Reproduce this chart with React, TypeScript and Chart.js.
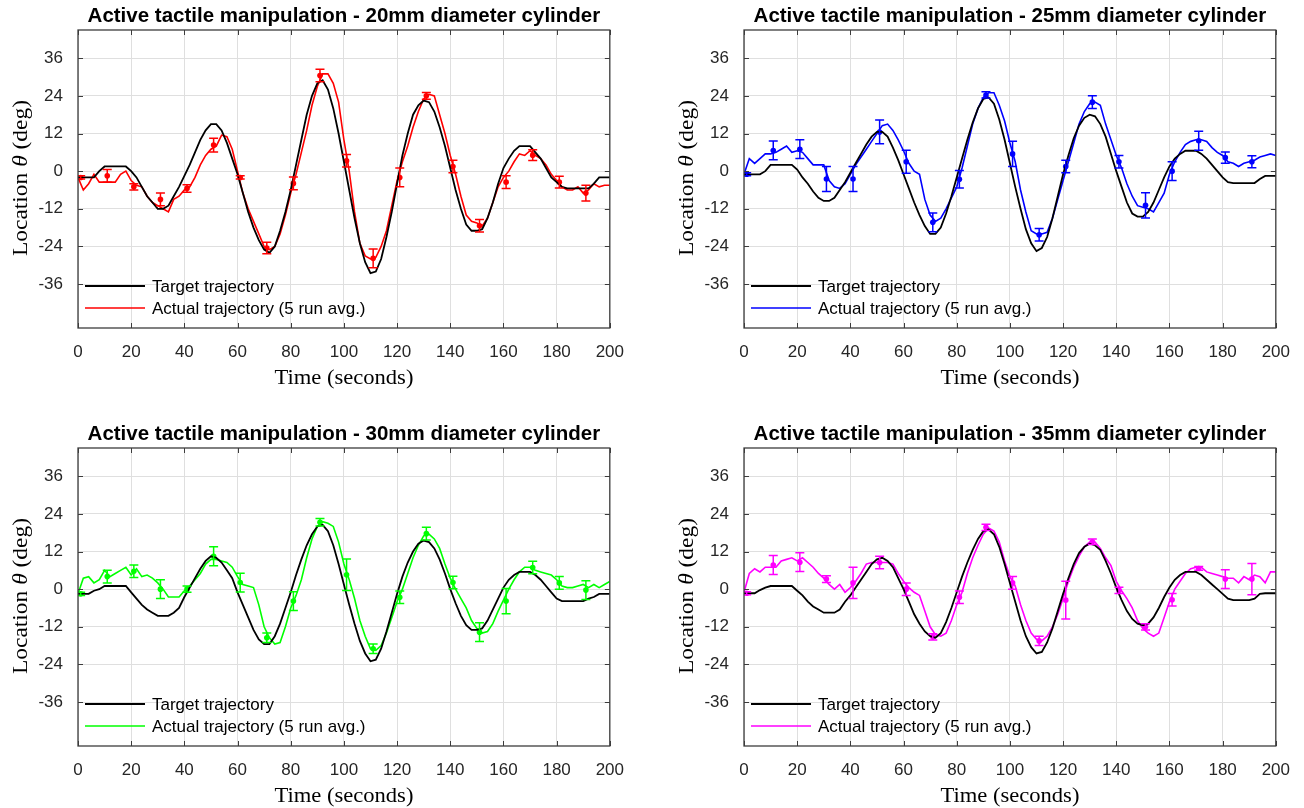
import React, { useEffect, useRef } from "react";
import { Chart, registerables } from "chart.js";

Chart.register(...registerables);

// ---------------- data ----------------
const TIME_S = Array.from({ length: 101 }, (_, i) => i * 2);
const ERR_TIME_S = [1, 11, 21, 31, 41, 51, 61, 71, 81, 91, 101, 111, 121, 131, 141, 151, 161, 171, 181, 191];
const X_TICKS = [0, 20, 40, 60, 80, 100, 120, 140, 160, 180, 200];
const Y_TICKS = [-36, -24, -12, 0, 12, 24, 36];

const TARGET_20 = [
  -2, -2, -2, -2, 0, 1.5, 1.5, 1.5, 1.5, 1.5,
  0, -2, -5, -8, -10, -12, -12, -11, -8, -5,
  -1.5, 2, 6, 10, 13, 15, 15, 13, 9, 4,
  -1, -7, -13, -18, -22, -25, -26, -24, -19, -13,
  -6, 2, 10, 18, 24, 28, 29, 26, 20, 12,
  3, -6, -15, -23, -29, -32.5, -32, -28, -21, -13,
  -4, 5, 12, 18, 21, 22.5, 22, 19, 14, 8,
  1, -6, -12, -17, -19, -19, -18.5, -15, -10, -4,
  1, 4, 6.5, 8, 8, 8, 6, 4, 1, -2,
  -3.5, -5, -5.5, -5.5, -5.5, -5.5, -5.5, -4, -2, -2,
  -2,
];
const ACTUAL_20 = [
  -2, -6, -4, -1, -3.5, -3.5, -3.5, -3.5, -1, 0,
  -3, -4.5, -5, -8, -10, -11, -12, -13, -9, -8,
  -6, -5, -2, 2, 5, 7, 8, 11.5, 11, 7,
  0, -7, -12, -16, -20, -24, -25, -24, -20, -14,
  -7, -1, 6, 13, 21, 27, 31, 31, 28, 22,
  10, 0, -13, -23, -27, -28, -27.5, -24, -19, -11,
  -3, 3, 8, 14, 19, 23, 24.5, 24, 18, 12,
  5, -1, -8, -14, -16, -16.5, -17.5, -15, -10, -5,
  -2, 0, 3, 5.5, 5, 6.5, 5, 4, 2, -1,
  -3, -5, -6, -6, -5, -7, -6, -4, -5, -4.5,
  -4.5,
];
const ERR_MEAN_20 = [-2, -1.5, -5, -9, -5.5, 8.3, -2, -24.5, -3.9, 30.5, 3.3, -27.8, -2, 24, 1.5, -17.4, -3.5, 5.1, -3.5, -7];
const ERR_HALF_20 = [0.5, 2, 1, 2, 1.2, 2.2, 0.5, 1.8, 2, 2, 2, 3, 3, 1.1, 2, 2, 2, 1.7, 1.9, 2.5];

const TARGET_25 = [
  -1, -1, -1, -1, 0, 2, 2, 2, 2, 2,
  0.5, -2, -4, -6.5, -8.5, -9.5, -9.5, -8.5, -6, -3.5,
  -0.5, 2.5, 5.5, 8.5, 11, 12.5, 12.5, 11, 7.5, 3.5,
  -1, -5.5, -10, -14, -17.5, -20, -20, -18, -13.5, -8,
  -2, 4, 10, 15.5, 20, 23, 23.5, 21.5, 16.5, 10,
  2.5, -5, -12, -18.5, -23, -25.5, -24.5, -21, -15, -8,
  -1, 5, 10.5, 14.5, 17, 18, 17.5, 15, 11, 5.5,
  0, -5, -10, -13.5, -14.5, -14.5, -13, -10, -6, -2,
  1.5, 4, 5.5, 6.5, 6.5, 6.5, 5.5, 4, 2, 0,
  -2, -3.5, -3.8, -3.8, -3.8, -3.8, -3.8, -2.5, -1.5, -1.5,
  -1.5,
];
const ACTUAL_25 = [
  -1, 4, 2.5, 4, 5.5, 5.5, 6, 7, 8, 6,
  6.5, 6, 4, 2, 2, 2, -3, -5, -5.5, -4,
  -1, 2, 4.5, 7, 9.5, 12, 14.5, 15, 13, 10,
  6.5, 2.5, 0, -1, -9, -14, -16, -15, -12, -8.5,
  -5, 1, 8, 15, 20, 23.5, 25, 25, 21, 16,
  9, 3, -6, -13, -19, -20, -20, -19.5, -15, -9,
  -3, 3, 9, 15, 19, 21.5, 22, 21, 15, 10,
  5, 1, -4, -8, -11, -11.5, -12, -13, -10, -7,
  -1, 3, 6, 8.5, 9.5, 10, 10, 9.5, 7.5, 6,
  5, 3, 2.5, 1.5, 2.5, 3, 3.5, 4.5, 5, 5.5,
  5,
];
const ERR_MEAN_25 = [-1, 6.6, 7, -2.5, -2.5, 12.5, 3, -16.3, -2.6, 24.3, 5.5, -20.3, 1.5, 22, 3, -10.9, 0, 9.7, 4.3, 3];
const ERR_HALF_25 = [0.5, 3, 3, 4, 4, 3.8, 3.7, 3, 2.8, 1, 4, 2, 2, 2, 2, 4, 3, 3, 1.8, 1.9];

const TARGET_30 = [
  -1.5, -1.5, -1.5, -0.5, 0, 1, 1, 1, 1, 1,
  -1, -3, -5, -6.5, -7.5, -8.5, -8.5, -8.5, -7.5, -6,
  -2.5, 0.5, 3.5, 6.5, 9, 10.5, 10, 8.5, 6, 3.5,
  -1, -5, -9, -13, -16, -17.5, -17.5, -15, -11, -6,
  -1, 4.5, 9.5, 14, 17.5, 20, 20.5, 18.5, 14, 8,
  1.5, -5, -11, -16.5, -20.5, -23, -22.5, -19, -13.5, -7.5,
  -1.5, 4, 8.5, 12, 14.5, 15.5, 15, 13, 9.5, 5,
  0, -4.5, -8.5, -11.5, -13, -13, -12.5, -10, -6.5, -3,
  0.5, 3, 4.5, 5.5, 5.5, 5.5, 4.5, 3, 1, -1,
  -3, -3.8, -3.8, -3.8, -3.8, -3.8, -3, -2.5, -1.5, -1.5,
  -1.5,
];
const ACTUAL_30 = [
  -1.5, 3.5, 4, 2, 3, 6, 4, 5, 6, 7,
  4.5, 6.5, 4, 4.5, 3.5, 2, 0, -2.5, -2.5, -2.5,
  -0.5, 1, 3, 5, 8, 9.5, 9.5, 9, 8.5, 7,
  4, 1.5, 1, 0.5, -5, -12, -15.5, -17.5, -17, -12,
  -6, -2, 3, 10, 16, 20, 21.5, 21, 20, 15,
  8, 3, -3, -10, -15, -19, -19.5, -18, -14, -9,
  -4, 0, 5, 10, 14, 17, 17.5, 16, 13, 8,
  3.5, 0, -3, -6, -10, -12.5, -14, -13.5, -11, -7,
  -3.5, 0, 3, 5.5, 7, 7, 6, 5.5, 5, 4.5,
  3, 1, 0.5, 0.5, 1, 1.5, 0.5, 1.5, 0.5, 1.5,
  2.5,
];
const ERR_MEAN_30 = [-1.5, 4, 5.7, 0, 0, 10.5, 2.1, -15.5, -3.8, 21.3, 4.6, -19, -2.6, 17.7, 2.1, -13.7, -3.8, 6.9, 2, -0.3];
const ERR_HALF_30 = [0.5, 2, 2, 3, 1, 3, 3, 1.5, 3, 1.2, 5, 1.5, 2, 2, 2, 3, 4, 2, 2, 3];

const TARGET_35 = [
  -1.3, -1.3, -1.3, -0.3, 0.5, 1, 1, 1, 1, 1,
  -0.5, -2, -4, -5.5, -6.5, -7.5, -7.5, -7.5, -6.5, -4,
  -2, 0.5, 3, 5.5, 8, 9.5, 10, 9, 7, 3.5,
  0, -4, -8, -11, -13.5, -15, -15.5, -14, -10.5, -6,
  -1, 4, 8.5, 12.5, 16, 18.5, 19, 17.5, 13.5, 8,
  2, -4, -10, -15, -18.5, -20.5, -20, -17, -12.5, -7,
  -1.5, 3.5, 8, 11.5, 13.5, 14.5, 14, 12.5, 9, 5,
  0.5, -3.5, -7, -9.5, -11, -11.5, -11, -9, -6, -2.5,
  0.5, 3, 4.5, 5.5, 5.5, 5.5, 4.5, 3, 1.5, 0,
  -1.5, -3, -3.5, -3.5, -3.5, -3.5, -3, -1.5, -1.3, -1.3,
  -1.3,
];
const ACTUAL_35 = [
  -1, 5, 6.5, 5.5, 7, 7, 7, 9, 9.5, 10,
  9, 10, 8.5, 7, 5, 3.5, 1.5, 0, 1.5, -1,
  0.5, 2.5, 5, 8, 8.5, 8.5, 8.5, 8.5, 8, 5,
  2.5, 0.5, -1, -2, -7, -12, -14.5, -15, -14, -10,
  -5, -1, 5, 10, 14, 17.5, 19.5, 18.5, 15, 9,
  4, 1, -5, -10, -14, -16, -16.5, -15, -12, -8,
  -3, 2.5, 7, 10.5, 13.5, 15, 15, 13, 10, 7.5,
  2.5, -0.5, -3, -6, -10, -12.5, -14, -15, -14, -9,
  -4, 0, 2.5, 5, 6.5, 7, 7, 5.5, 5, 4.5,
  4, 3.5, 3.5, 2, 4, 3, 4.5, 4, 2, 5.5,
  5.5,
];
const ERR_MEAN_35 = [-1.3, 7.7, 8.6, 3.2, 2, 8.5, 0, -15.2, -2.6, 19.7, 2, -16.5, -3.5, 15.1, -0.4, -12, -3.4, 6.6, 3.2, 3.2];
const ERR_HALF_35 = [0.5, 3, 3, 1.1, 5, 2, 2, 1, 2, 1, 2, 1.5, 6, 0.9, 1, 1, 2, 0.6, 3, 5];

const TITLES = [
  "Active tactile manipulation - 20mm diameter cylinder",
  "Active tactile manipulation - 25mm diameter cylinder",
  "Active tactile manipulation - 30mm diameter cylinder",
  "Active tactile manipulation - 35mm diameter cylinder",
];
const LEGEND_TARGET = "Target trajectory";
const LEGEND_ACTUAL = "Actual trajectory (5 run avg.)";
const X_TITLE = "Time (seconds)";

// ---------------- styling ----------------
const SANS = '"Liberation Sans", Arial, Helvetica, sans-serif';
const SERIF = '"Liberation Serif", "Times New Roman", serif';
const CW = 638;
const CH = 390;

const decorPlugin = {
  id: "decor",
  afterDatasetsDraw(chart: any, _args: any, opts: any) {
    const { ctx, scales } = chart;
    const x = scales.x;
    const y = scales.y;
    const a = chart.chartArea;
    ctx.save();
    ctx.beginPath();
    ctx.rect(a.left, a.top, a.right - a.left, a.bottom - a.top);
    ctx.clip();
    ctx.strokeStyle = opts.color;
    ctx.lineWidth = 1.5;
    opts.errTime.forEach((t: number, i: number) => {
      const px = x.getPixelForValue(t);
      const py1 = y.getPixelForValue(opts.errMean[i] + opts.errHalf[i]);
      const py2 = y.getPixelForValue(opts.errMean[i] - opts.errHalf[i]);
      ctx.beginPath();
      ctx.moveTo(px, py1);
      ctx.lineTo(px, py2);
      ctx.moveTo(px - 4.5, py1);
      ctx.lineTo(px + 4.5, py1);
      ctx.moveTo(px - 4.5, py2);
      ctx.lineTo(px + 4.5, py2);
      ctx.stroke();
    });
    ctx.restore();
  },
  afterDraw(chart: any, _args: any, opts: any) {
    const { ctx, scales } = chart;
    const x = scales.x;
    const y = scales.y;
    const a = chart.chartArea;
    const cx = (a.left + a.right) / 2;
    ctx.save();
    // frame
    ctx.strokeStyle = "#3c3c3c";
    ctx.lineWidth = 1.3;
    ctx.strokeRect(a.left, a.top, a.right - a.left, a.bottom - a.top);
    // inward ticks
    ctx.lineWidth = 1;
    ctx.beginPath();
    X_TICKS.forEach((t) => {
      const px = Math.round(x.getPixelForValue(t)) + 0.5;
      ctx.moveTo(px, a.bottom);
      ctx.lineTo(px, a.bottom - 5);
      ctx.moveTo(px, a.top);
      ctx.lineTo(px, a.top + 5);
    });
    Y_TICKS.forEach((v) => {
      const py = Math.round(y.getPixelForValue(v)) + 0.5;
      ctx.moveTo(a.left, py);
      ctx.lineTo(a.left + 5, py);
      ctx.moveTo(a.right, py);
      ctx.lineTo(a.right - 5, py);
    });
    ctx.stroke();

    // legend
    const ly1 = a.bottom - 42;
    const ly2 = a.bottom - 20;
    ctx.lineWidth = 1.8;
    ctx.strokeStyle = "#000000";
    ctx.beginPath();
    ctx.moveTo(a.left + 7, ly1);
    ctx.lineTo(a.left + 67, ly1);
    ctx.stroke();
    ctx.strokeStyle = opts.color;
    ctx.lineWidth = 1.6;
    ctx.beginPath();
    ctx.moveTo(a.left + 7, ly2);
    ctx.lineTo(a.left + 67, ly2);
    ctx.stroke();
    ctx.fillStyle = "#000000";
    ctx.font = `17px ${SANS}`;
    ctx.textAlign = "left";
    ctx.textBaseline = "middle";
    ctx.fillText(LEGEND_TARGET, a.left + 74, ly1 + 1);
    ctx.fillText(LEGEND_ACTUAL, a.left + 74, ly2 + 1);

    // title
    ctx.font = `bold 20.5px ${SANS}`;
    ctx.textAlign = "center";
    ctx.textBaseline = "alphabetic";
    ctx.fillText(opts.title, cx, 22);

    // x title
    ctx.font = `22px ${SERIF}`;
    const wx = ctx.measureText(X_TITLE).width;
    ctx.save();
    ctx.translate(cx, 384);
    ctx.scale(139 / wx, 1);
    ctx.fillText(X_TITLE, 0, 0);
    ctx.restore();

    // y title with italic theta
    const parts: [string, string][] = [
      ["Location ", `22px ${SERIF}`],
      ["\u03b8", `italic 22px ${SERIF}`],
      [" (deg)", `22px ${SERIF}`],
    ];
    let total = 0;
    const widths = parts.map(([s, f]) => {
      ctx.font = f;
      const w = ctx.measureText(s).width;
      total += w;
      return w;
    });
    ctx.save();
    ctx.translate(27, (a.top + a.bottom) / 2 - 1);
    ctx.rotate(-Math.PI / 2);
    ctx.scale(156 / total, 1);
    ctx.textAlign = "left";
    let xp = -total / 2;
    parts.forEach(([s, f], i) => {
      ctx.font = f;
      ctx.fillText(s, xp, 0);
      xp += widths[i];
    });
    ctx.restore();
    ctx.restore();
  },
};

type PanelProps = {
  left: number;
  top: number;
  title: string;
  target: number[];
  actual: number[];
  errMean: number[];
  errHalf: number[];
  color: string;
};

function Panel(p: PanelProps) {
  const ref = useRef<HTMLCanvasElement>(null);
  useEffect(() => {
    const tickFont = { family: SANS, size: 17 };
    const chart = new Chart(ref.current as HTMLCanvasElement, {
      type: "line",
      data: {
        datasets: [
          {
            label: LEGEND_TARGET,
            data: TIME_S.map((t, i) => ({ x: t, y: p.target[i] })),
            borderColor: "#000000",
            borderWidth: 1.8,
            pointRadius: 0,
            tension: 0,
          },
          {
            label: LEGEND_ACTUAL,
            data: TIME_S.map((t, i) => ({ x: t, y: p.actual[i] })),
            borderColor: p.color,
            borderWidth: 1.6,
            pointRadius: 0,
            tension: 0,
          },
          {
            label: "mean",
            data: ERR_TIME_S.map((t, i) => ({ x: t, y: p.errMean[i] })),
            showLine: false,
            borderColor: p.color,
            backgroundColor: p.color,
            pointRadius: 2.8,
            pointBorderWidth: 0,
          },
        ],
      } as any,
      options: {
        animation: false,
        responsive: false,
        maintainAspectRatio: false,
        events: [],
        layout: { padding: { top: 30, left: 0, right: 28, bottom: 12 } },
        plugins: {
          legend: { display: false },
          tooltip: { enabled: false },
          title: { display: false },
          decor: {
            color: p.color,
            title: p.title,
            errTime: ERR_TIME_S,
            errMean: p.errMean,
            errHalf: p.errHalf,
          },
        } as any,
        scales: {
          x: {
            type: "linear",
            min: 0,
            max: 200,
            afterFit: (s: any) => {
              s.height = 50;
            },
            afterBuildTicks: (s: any) => {
              s.ticks = X_TICKS.map((v) => ({ value: v }));
            },
            grid: { color: "#dfdfdf", drawTicks: false, lineWidth: 1 },
            border: { display: false },
            ticks: { font: tickFont, color: "#262626", padding: 14, maxRotation: 0, autoSkip: false },
          },
          y: {
            type: "linear",
            min: -50,
            max: 45,
            afterFit: (s: any) => {
              s.width = 78;
            },
            afterBuildTicks: (s: any) => {
              s.ticks = Y_TICKS.map((v) => ({ value: v }));
            },
            grid: { color: "#dfdfdf", drawTicks: false, lineWidth: 1 },
            border: { display: false },
            ticks: { font: tickFont, color: "#262626", padding: 15, autoSkip: false },
          },
        } as any,
      },
      plugins: [decorPlugin as any],
    });
    return () => chart.destroy();
  }, []);
  return (
    <canvas
      ref={ref}
      width={CW}
      height={CH}
      style={{ position: "absolute", left: p.left, top: p.top, width: CW, height: CH }}
    />
  );
}

export default function App() {
  return (
    <div style={{ position: "absolute", left: 0, top: 0, width: 1304, height: 808, background: "#ffffff", overflow: "hidden" }}>
      <Panel left={0} top={0} title={TITLES[0]} target={TARGET_20} actual={ACTUAL_20} errMean={ERR_MEAN_20} errHalf={ERR_HALF_20} color="#ff0000" />
      <Panel left={666} top={0} title={TITLES[1]} target={TARGET_25} actual={ACTUAL_25} errMean={ERR_MEAN_25} errHalf={ERR_HALF_25} color="#0000ff" />
      <Panel left={0} top={418} title={TITLES[2]} target={TARGET_30} actual={ACTUAL_30} errMean={ERR_MEAN_30} errHalf={ERR_HALF_30} color="#00ff00" />
      <Panel left={666} top={418} title={TITLES[3]} target={TARGET_35} actual={ACTUAL_35} errMean={ERR_MEAN_35} errHalf={ERR_HALF_35} color="#ff00ff" />
    </div>
  );
}
